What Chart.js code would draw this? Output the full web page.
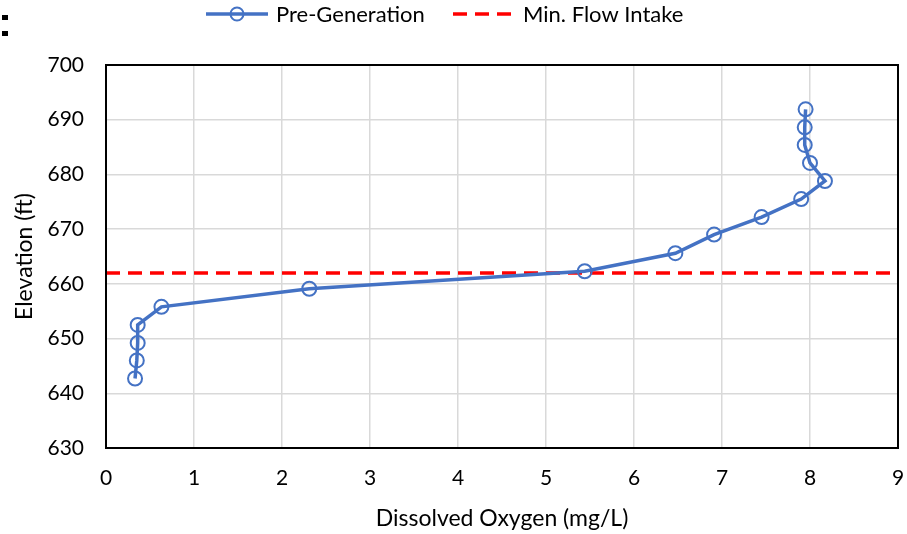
<!DOCTYPE html>
<html>
<head>
<meta charset="utf-8">
<script src="https://cdn.jsdelivr.net/npm/chart.js@4/dist/chart.umd.min.js"></script>
<style>
  html, body { margin: 0; padding: 0; background: #fff; }
  #wrap { width: 907px; height: 534px; }
</style>
</head>
<body>
<div id="wrap"><canvas id="myChart" width="907" height="534"></canvas></div>
<script>
const ctx = document.getElementById('myChart').getContext('2d');

const FONT = 'Lato, "Open Sans", sans-serif';

// Pre-Generation profile: dissolved oxygen (mg/L) vs elevation (ft)
const doValues = [0.33, 0.35, 0.36, 0.36, 0.63, 2.31, 5.44, 6.47, 6.91, 7.45, 7.90, 8.17, 8.00, 7.94, 7.94, 7.95];
const elevation = [642.7, 646.0, 649.2, 652.5, 655.8, 659.1, 662.3, 665.6, 669.0, 672.2, 675.5, 678.8, 682.1, 685.4, 688.6, 691.9];

// Min. flow intake elevation, drawn across the full x range
const intakeElevation = 662;
const intakeX = [0, 9];

const seriesNames = ['Pre-Generation', 'Min. Flow Intake'];

const profilePoints = doValues.map((x, i) => ({ x: x, y: elevation[i] }));
const intakePoints = intakeX.map(x => ({ x: x, y: intakeElevation }));

// simple legend like the original, drawn above the plot
const legendPlugin = {
    id: 'topLegend',
    afterDraw(chart) {
        const c = chart.ctx;
        const ds = chart.data.datasets;
        const y = 14;
        c.save();
        // little marks at top left
        c.fillStyle = '#000';
        c.fillRect(2, 15, 6, 5);
        c.fillRect(2, 31, 6, 5);

        c.font = '22px ' + FONT;
        c.textBaseline = 'middle';

        c.strokeStyle = ds[0].borderColor;
        c.lineWidth = 3.5;
        c.beginPath();
        c.moveTo(206, y);
        c.lineTo(268, y);
        c.stroke();
        c.lineWidth = 2;
        c.beginPath();
        c.arc(237, y, 6.5, 0, Math.PI * 2);
        c.stroke();
        c.fillStyle = '#000';
        c.fillText(ds[0].label, 276, y + 1);

        c.strokeStyle = ds[1].borderColor;
        c.lineWidth = 3.5;
        c.setLineDash(ds[1].borderDash);
        c.beginPath();
        c.moveTo(453, y);
        c.lineTo(518, y);
        c.stroke();
        c.setLineDash([]);
        c.fillText(ds[1].label, 523, y + 1);
        c.restore();
    }
};

// black frame around the plot area
const framePlugin = {
    id: 'frame',
    afterDatasetsDraw(chart) {
        const a = chart.chartArea;
        const c = chart.ctx;
        c.save();
        c.strokeStyle = '#000';
        c.lineWidth = 2;
        c.strokeRect(a.left, a.top, a.right - a.left, a.bottom - a.top);
        c.restore();
    }
};

const config = {
    type: 'scatter',
    data: {
        datasets: [
            {
                label: seriesNames[0],
                data: profilePoints,
                showLine: true,
                borderColor: '#4472C4',
                backgroundColor: 'rgba(0,0,0,0)',
                borderWidth: 3.5,
                pointRadius: 7,
                pointBorderWidth: 2,
                pointBorderColor: '#4472C4',
                pointBackgroundColor: 'rgba(0,0,0,0)',
                tension: 0,
                order: 0
            },
            {
                label: seriesNames[1],
                data: intakePoints,
                showLine: true,
                borderColor: '#FF0000',
                borderWidth: 3.5,
                borderDash: [14, 8],
                pointRadius: 0,
                tension: 0,
                order: 1
            }
        ]
    },
    options: {
        responsive: false,
        animation: false,
        layout: {
            padding: { top: 65, right: 9, left: 0, bottom: 0 }
        },
        plugins: {
            legend: { display: false },
            tooltip: { enabled: false }
        },
        scales: {
            x: {
                type: 'linear',
                min: 0,
                max: 9,
                ticks: {
                    stepSize: 1,
                    color: '#000',
                    padding: 18,
                    font: { family: FONT, size: 21 }
                },
                grid: { color: '#d9d9d9', lineWidth: 1.5, drawTicks: false },
                border: { display: false },
                title: {
                    display: true,
                    text: 'Dissolved Oxygen (mg/L)',
                    color: '#000',
                    font: { family: FONT, size: 23 },
                    padding: { top: 0, bottom: 2 }
                },
                afterFit(scale) {
                    scale.height = 86;
                    scale.paddingLeft = 0;
                    scale.paddingRight = 0;
                }
            },
            y: {
                type: 'linear',
                min: 630,
                max: 700,
                ticks: {
                    stepSize: 10,
                    color: '#000',
                    padding: 22,
                    font: { family: FONT, size: 21 }
                },
                grid: { color: '#d9d9d9', lineWidth: 1.5, drawTicks: false },
                border: { display: false },
                title: {
                    display: true,
                    text: 'Elevation (ft)',
                    color: '#000',
                    font: { family: FONT, size: 23 },
                    padding: { top: 11, bottom: 0 }
                },
                afterFit(scale) {
                    scale.width = 106;
                    scale.paddingTop = 0;
                    scale.paddingBottom = 0;
                }
            }
        }
    },
    plugins: [legendPlugin, framePlugin]
};

const myChart = new Chart(ctx, config);
</script>
</body>
</html>
